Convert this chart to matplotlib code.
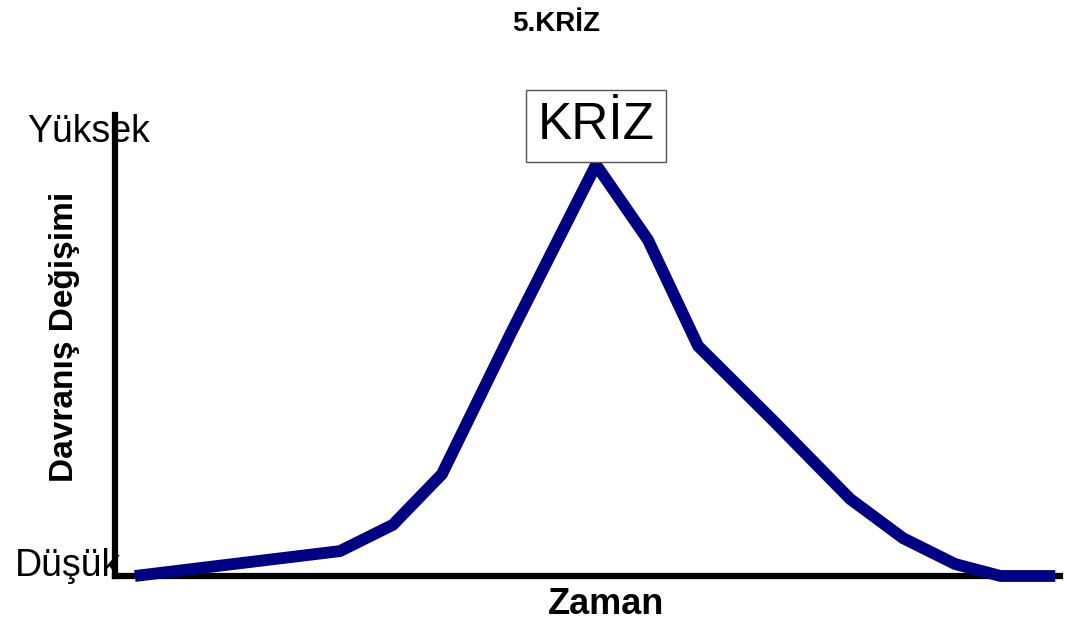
import matplotlib
matplotlib.use("Agg")
import matplotlib.pyplot as plt

# Data (arbitrary units: time 0-100, behaviour change 0-100)
zaman = [2.1, 23.8, 29.4, 34.6, 41.8, 50.9, 56.4, 61.7, 69.8, 77.8, 83.4, 88.9, 93.7, 99.5]
degisim = [0.0, 5.4, 11.1, 22.1, 52.3, 89.2, 72.9, 49.9, 33.4, 16.7, 8.2, 2.6, 0.0, 0.0]

title = "5.KRİZ"
peak_label = "KRİZ"
y_high = "Yüksek"
y_low = "Düşük"
x_label = "Zaman"
y_label = "Davranış Değişimi"

plt.rcParams['font.family'] = ['Liberation Sans', 'DejaVu Sans']

W, H = 1067, 621
fig = plt.figure(figsize=(W / 100, H / 100), dpi=100)
ax = fig.add_axes([115 / W, (H - 576) / H, (1060 - 115) / W, (576 - 115) / H])
ax.set_xlim(0, 100)
ax.set_ylim(0, 100)

ax.plot(zaman, degisim, color="#000080", lw=8.5, solid_joinstyle="miter",
        solid_capstyle="butt", clip_on=False, zorder=3)

for s in ["top", "right"]:
    ax.spines[s].set_visible(False)
ax.spines["left"].set_linewidth(4.5)
ax.spines["bottom"].set_linewidth(4.5)
ax.spines["left"].set_zorder(4)
ax.spines["bottom"].set_zorder(2)
ax.set_xticks([])
ax.set_yticks([])

fig.text(556 / W, 1 - 24 / H, title, ha="center", va="center",
         fontsize=20, fontweight="bold")

# Peak label box
pk = degisim.index(max(degisim))
ax.annotate(peak_label, xy=(zaman[pk], degisim[pk]), xytext=(0, 28),
            textcoords="offset points", ha="center", va="center", fontsize=37,
            bbox=dict(boxstyle="square,pad=0.22", fc="white", ec="#555555", lw=1.0),
            zorder=5)

fig.text(27 / W, 1 - 132 / H, y_high, ha="left", va="center", fontsize=27)
fig.text(15 / W, 1 - 566 / H, y_low, ha="left", va="center", fontsize=27)
fig.text(606 / W, 1 - 604 / H, x_label, ha="center", va="center",
         fontsize=26, fontweight="bold")
fig.text(65 / W, 1 - 337 / H, y_label, ha="center", va="center",
         fontsize=24, fontweight="bold", rotation=90)

fig.savefig("out.png", dpi=100)
